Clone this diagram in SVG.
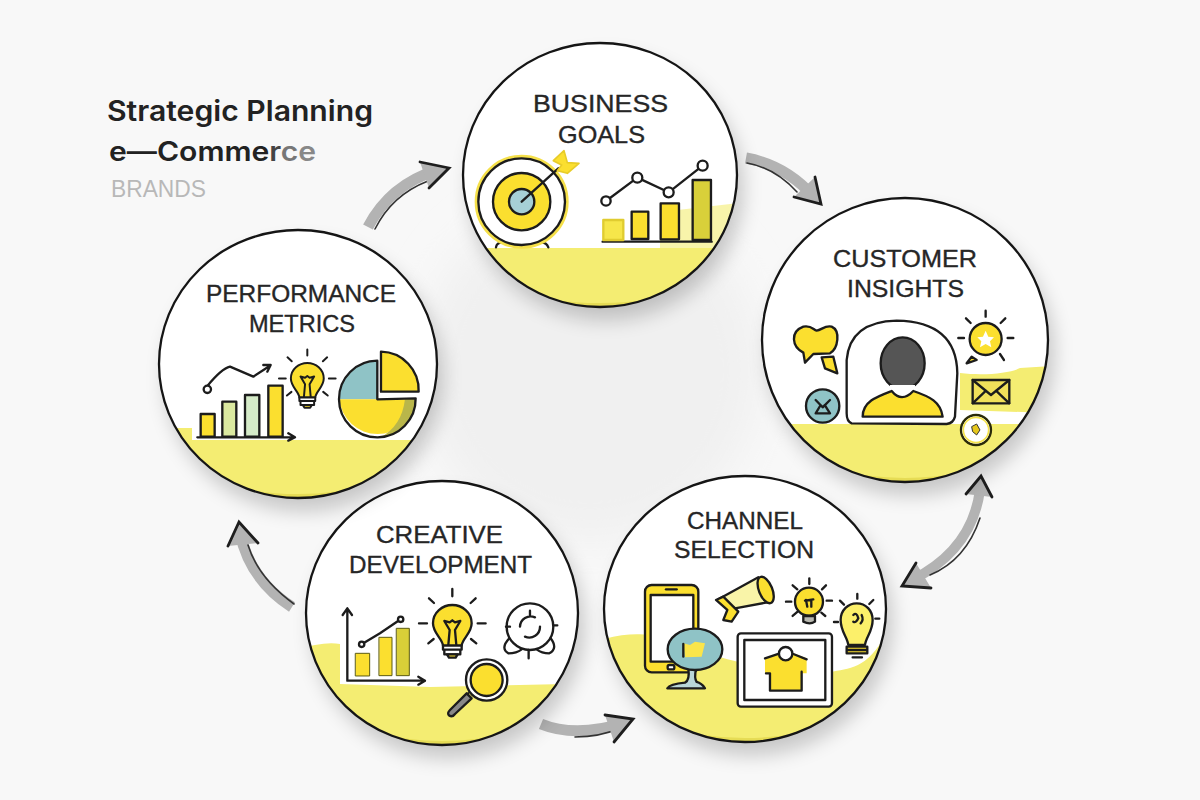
<svg xmlns="http://www.w3.org/2000/svg" width="1200" height="800" viewBox="0 0 1200 800">
<defs>
<style>
.lbl{font-family:"Liberation Sans",Arial,sans-serif;font-size:24.5px;fill:#262626;stroke:#262626;stroke-width:.35}
.ttl{font-family:Inter,"Liberation Sans",Arial,sans-serif;font-weight:600;fill:#222}
.ring{fill:none;stroke:#151515;stroke-width:2.3}
.k{fill:none;stroke:#1c1c1c;stroke-width:7;stroke-linecap:round;stroke-linejoin:round}
.ky{fill:#fbdf2f;stroke:#1c1c1c;stroke-width:7;stroke-linecap:round;stroke-linejoin:round}
.kw{fill:#fff;stroke:#1c1c1c;stroke-width:7;stroke-linecap:round;stroke-linejoin:round}
.kt{fill:#8fc3c6;stroke:#1c1c1c;stroke-width:7;stroke-linecap:round;stroke-linejoin:round}
.gnd{fill:#f4ed72}
.shaft{fill:none;stroke:#b3b3b3;stroke-linecap:butt}
.edge{fill:none;stroke:#333;stroke-width:1.6;stroke-linecap:round}
.head{fill:none;stroke:#1e1e1e;stroke-width:2.8;stroke-linecap:round;stroke-linejoin:miter}
.hf{fill:#b3b3b3}
</style>
<filter id="soft" x="-30%" y="-30%" width="160%" height="160%"><feGaussianBlur stdDeviation="10"/></filter>
<filter id="vsoft" x="-30%" y="-30%" width="160%" height="160%"><feGaussianBlur stdDeviation="22"/></filter>
<clipPath id="c1"><ellipse cx="600" cy="175" rx="137" ry="132"/></clipPath>
<clipPath id="c2"><ellipse cx="905" cy="340" rx="143" ry="142"/></clipPath>
<clipPath id="c3"><ellipse cx="745" cy="609" rx="141" ry="133"/></clipPath>
<clipPath id="c4"><ellipse cx="442" cy="613" rx="136" ry="132"/></clipPath>
<clipPath id="c5"><ellipse cx="298" cy="364" rx="139" ry="134"/></clipPath>
<g id="bulb">
<path class="ky" d="M-28,62 C-30,40 -58,25 -58,-5 C-58,-38 -30,-60 0,-60 C30,-60 58,-38 58,-5 C58,25 30,40 28,62 Z"/>
<path class="k" d="M-12,60 L-8,15 L-24,-12 L-8,-8 L0,-14 L8,-8 L24,-12 L8,15 L12,60"/>
<path class="kw" d="M-28,62 H28 V74 H-28 Z M-24,74 H24 V88 H-24 Z"/>
<path class="ky" d="M-16,88 H16 L10,98 H-10 Z"/>
<path class="k" d="M0,-108 V-86 M-70,-80 L-55,-66 M70,-80 L55,-66 M-100,-5 H-76 M100,-5 H76 M-72,55 L-56,42 M72,55 L56,42"/>
</g>
</defs>
<rect width="1200" height="800" fill="#f8f8f8"/>
<ellipse cx="590" cy="370" rx="170" ry="170" fill="#f0f0f0" filter="url(#vsoft)"/>

<g id="title">
<text class="ttl" x="107" y="121" font-size="28" textLength="266" lengthAdjust="spacingAndGlyphs">Strategic Planning</text>
<text class="ttl" x="109" y="161" font-size="27" textLength="207" lengthAdjust="spacingAndGlyphs">e—Comme<tspan fill="#444">r</tspan><tspan fill="#777">c</tspan><tspan fill="#888">e</tspan></text>
<text x="111" y="197" font-family="'Liberation Sans',Arial,sans-serif" font-size="23" fill="#b8b8b8" textLength="95" lengthAdjust="spacingAndGlyphs">BRANDS</text>
</g>

<g id="connectors">
<g><path class="shaft" stroke-width="11" d="M368,227 Q390,185 437,170"/><path class="edge" d="M375,229 Q392,195 428,181"/><path class="hf" d="M449,168 L420,162 L429,188 Z"/><path class="head" d="M420,162 L449,168 L429,188"/></g>
<g><path class="shaft" stroke-width="11" d="M746,158 Q785,165 813,196"/><path class="edge" d="M747,163 Q775,168 797,192"/><path class="hf" d="M821,204 L815,177 L794,197 Z"/><path class="head" d="M815,177 L821,204 L794,197"/></g>
<g><path class="shaft" stroke-width="10" d="M980,490 Q972,550 912,580"/><path class="edge" d="M980,518 Q966,560 930,575"/><path class="hf" d="M981,476 L966,494 L992,497 Z M902,586 L916,563 L931,588 Z"/><path class="head" d="M966,494 L981,476 L992,497"/><path class="head" d="M916,563 L902,586 L931,588"/></g>
<g><path class="shaft" stroke-width="11" d="M541,724 Q575,738 625,723"/><path class="edge" d="M575,737 Q600,737 620,728"/><path class="hf" d="M633,719 L605,715 L614,742 Z"/><path class="head" d="M605,715 L633,719 L614,742"/></g>
<g><path class="shaft" stroke-width="11" d="M292,607 Q250,580 240,533"/><path class="edge" d="M294,604 Q258,578 248,545"/><path class="hf" d="M239,522 L228,546 L258,543 Z"/><path class="head" d="M228,546 L239,522 L258,543"/></g>
</g>

<g id="node-business">
<ellipse cx="606" cy="188" rx="137" ry="132" fill="#000" opacity=".2" filter="url(#soft)"/>
<ellipse cx="600" cy="175" rx="137" ry="132" fill="#fff"/>
<g clip-path="url(#c1)">
<rect x="460" y="248" width="280" height="60" fill="#e6dc55"/>
<path class="gnd" d="M460,248 H740 V270 Q680,303 600,303 Q520,303 460,270 Z"/>
<path d="M660,212 L740,203 V248 H660 Z" fill="#f4ed72" opacity=".6"/>
</g>
<ellipse class="ring" cx="600" cy="175" rx="137" ry="132"/>
<text class="lbl" x="533" y="112" textLength="135" lengthAdjust="spacingAndGlyphs">BUSINESS</text>
<text class="lbl" x="558" y="143" textLength="87" lengthAdjust="spacingAndGlyphs">GOALS</text>
<g transform="translate(450,0) scale(.3333)">
<path class="k" d="M138,742 Q140,728 155,728 M295,742 Q290,728 275,728"/>
<circle cx="215" cy="605" r="135" fill="#fff" stroke="#f5e04a" stroke-width="12"/>
<circle class="k" cx="215" cy="605" r="130"/>
<circle class="ky" cx="215" cy="605" r="86"/>
<circle class="kt" cx="215" cy="605" r="38" style="fill:#a6d0d6"/>
<path class="k" d="M215,605 L325,505"/>
<path d="M310,482 L342,452 L352,488 L387,490 L352,520 L322,512 L335,495 Z" fill="#fbdf2f" stroke="#e8cc28" stroke-width="5" stroke-linejoin="round"/>
<path class="k" d="M458,725 H785"/>
<rect class="ky" style="fill:#f6e64a;stroke:#e0cc30" x="460" y="660" width="60" height="60"/>
<rect class="ky" x="545" y="635" width="50" height="82"/>
<rect class="ky" x="632" y="610" width="55" height="108"/>
<rect class="ky" style="fill:#d9d03a" x="728" y="540" width="55" height="180"/>
<path class="k" d="M468,603 L562,533 L656,577 L758,497"/>
<circle class="kw" cx="468" cy="603" r="14"/><circle class="kw" cx="562" cy="533" r="15"/><circle class="kw" cx="656" cy="577" r="15"/><circle class="kw" cx="758" cy="497" r="15"/>
</g>
</g>

<g id="node-customer">
<ellipse cx="911" cy="353" rx="143" ry="142" fill="#000" opacity=".2" filter="url(#soft)"/>
<ellipse cx="905" cy="340" rx="143" ry="142" fill="#fff"/>
<g clip-path="url(#c2)">
<rect x="760" y="424" width="290" height="60" fill="#e6dc55"/>
<path class="gnd" d="M760,424 H1050 V440 Q980,478 905,478 Q830,478 760,440 Z"/>
<path class="gnd" d="M960,373 C985,376 1010,373 1020,368 L1050,366 V413 L960,410 Z"/>
</g>
<ellipse class="ring" cx="905" cy="340" rx="143" ry="142"/>
<text class="lbl" x="833" y="267" textLength="144" lengthAdjust="spacingAndGlyphs">CUSTOMER</text>
<text class="lbl" x="847" y="297" textLength="117" lengthAdjust="spacingAndGlyphs">INSIGHTS</text>
<g transform="translate(750,200) scale(.3333)">
<path class="ky" d="M160,380 C185,375 190,390 200,392 C215,390 225,375 245,380 C272,392 265,445 240,460 L190,462 L165,488 L160,458 C125,440 120,395 160,380 Z"/>
<path class="ky" d="M215,472 L250,470 L262,520 L225,505 Z"/>
<path class="kw" d="M305,670 Q290,665 290,640 L290,480 Q300,365 440,362 Q620,365 622,520 L615,650 Q610,670 590,672 Z"/>
<ellipse class="k" style="fill:#555" cx="458" cy="490" rx="66" ry="78"/>
<path class="kw" style="stroke:none" d="M420,555 H495 V590 L455,605 L420,590 Z"/>
<path class="ky" d="M338,650 C338,605 380,590 425,573 Q455,610 490,573 C540,590 572,605 578,650 Z"/>
<circle class="kt" cx="218" cy="618" r="50"/>
<path class="k" d="M197,600 L218,622 L240,600 M197,640 L212,615 M240,640 L224,615 M197,640 H240"/>
<path class="ky" d="M665,470 L650,490 L680,480 Z"/>
<circle class="ky" cx="707" cy="417" r="48"/>
<path d="M707,392 L715,410 L732,412 L720,424 L724,442 L707,432 L690,442 L694,424 L682,412 L699,410 Z" fill="#fff"/>
<path class="k" d="M707,332 V350 M648,355 L662,369 M766,355 L752,369 M625,414 H642 M790,414 H773 M750,462 L762,480"/>
<rect class="k" style="fill:#f1e05a" x="668" y="540" width="110" height="70"/>
<path class="k" d="M668,540 L723,585 L778,540 M668,610 L708,572 M778,610 L738,572"/>
<circle class="kw" cx="678" cy="690" r="45" style="stroke:#2a2a0a"/>
<circle cx="678" cy="690" r="38" fill="none" stroke="#f5e34b" stroke-width="5"/>
<path d="M665,680 L680,672 L690,690 L680,705 L668,695 Z" fill="#e6c71c" stroke="#333" stroke-width="3"/>
</g>
</g>

<g id="node-channel">
<ellipse cx="751" cy="622" rx="141" ry="133" fill="#000" opacity=".2" filter="url(#soft)"/>
<ellipse cx="745" cy="609" rx="141" ry="133" fill="#fff"/>
<g clip-path="url(#c3)">
<path fill="#e6dc55" d="M600,700 H890 V745 H600 Z"/>
<path class="gnd" d="M600,640 C630,632 650,633 660,640 C700,650 780,680 830,672 C850,668 870,670 890,625 V690 Q830,738 745,738 Q660,738 600,690 Z"/>
</g>
<ellipse class="ring" cx="745" cy="609" rx="141" ry="133"/>
<text class="lbl" x="687" y="529" textLength="116" lengthAdjust="spacingAndGlyphs">CHANNEL</text>
<text class="lbl" x="674" y="558" textLength="140" lengthAdjust="spacingAndGlyphs">SELECTION</text>
<g transform="translate(590,480) scale(.3333)">
<rect class="ky" x="165" y="315" width="160" height="262" rx="20"/>
<rect class="kw" x="182" y="345" width="128" height="200"/>
<path class="k" d="M228,328 H260"/>
<rect class="kw" x="233" y="555" width="20" height="13" rx="5"/>
<path class="k" style="fill:#b9d6d8" d="M295,565 Q300,600 285,608 Q240,612 232,625 H345 Q335,610 320,606 Q312,595 318,568 Z"/>
<ellipse class="kt" cx="315" cy="508" rx="82" ry="62"/>
<path d="M280,490 L300,495 L315,485 L345,490 L335,530 L285,532 Z" fill="#fbe54a"/>
<path class="k" d="M280,492 V530"/>
<path class="kw" style="fill:#f9f4a8" d="M385,358 L505,292 L545,365 L435,385 Z"/>
<ellipse class="ky" cx="527" cy="330" rx="20" ry="42" transform="rotate(-22 527 330)"/>
<path class="ky" d="M378,360 L400,350 L430,380 L445,395 L425,425 L400,420 L412,390 Z"/>
<circle class="ky" cx="657" cy="365" r="42"/>
<path class="k" style="fill:#b9b9b0" d="M640,408 H675 V425 Q660,435 640,425 Z"/>
<path class="k" d="M648,360 L652,380 M664,360 L664,380 M645,362 L670,358"/>
<path class="k" d="M658,295 V312 M608,316 L622,328 M708,316 L696,328 M588,365 H604 M726,362 H710 M608,408 L622,396 M706,408 L694,398"/>
<path class="ky" style="fill:#fcf06a" d="M775,495 C772,470 752,455 752,420 C752,390 775,370 800,370 C828,370 848,392 848,420 C848,455 828,470 825,495 Z"/>
<path class="k" d="M790,405 Q800,395 805,415 Q798,430 790,425 M815,405 Q822,420 812,430"/>
<path class="ky" d="M770,500 H832 V520 H770 Z"/>
<path class="k" d="M788,532 H816 M772,510 H830"/>
<path class="k" d="M802,342 V356 M750,362 L762,374 M850,360 L838,372 M732,426 H744 M868,416 H856"/>
<rect class="kw" x="443" y="460" width="283" height="220" rx="10"/>
<rect class="k" x="463" y="480" width="243" height="180"/>
<path class="ky" style="stroke:none" d="M525,535 L565,520 L610,520 L650,535 L650,580 L635,580 V632 H540 V580 H525 Z"/>
<path class="k" d="M525,535 L565,522 M610,522 L650,538 M528,580 H540 V632 H635 V575"/>
<circle class="kw" cx="587" cy="521" r="20"/>
</g>
</g>

<g id="node-creative">
<ellipse cx="448" cy="626" rx="136" ry="132" fill="#000" opacity=".2" filter="url(#soft)"/>
<ellipse cx="442" cy="613" rx="136" ry="132" fill="#fff"/>
<g clip-path="url(#c4)">
<rect x="300" y="700" width="285" height="50" fill="#e6dc55"/>
<path class="gnd" d="M300,648 L315,645 Q330,642 340,644 L340,684 L430,687 L565,684 L580,650 V700 Q520,741 442,741 Q370,741 300,700 Z"/>
</g>
<ellipse class="ring" cx="442" cy="613" rx="136" ry="132"/>
<text class="lbl" x="376" y="543" textLength="127" lengthAdjust="spacingAndGlyphs">CREATIVE</text>
<text class="lbl" x="349" y="573" textLength="183" lengthAdjust="spacingAndGlyphs">DEVELOPMENT</text>
<g transform="translate(290,480) scale(.3333)">
<path class="k" d="M172,385 V602 H405 M158,405 L172,385 L186,405 M385,590 L405,602 L385,614"/>
<rect class="ky" style="stroke-width:3;stroke:#5a5a10" x="197" y="520" width="42" height="68"/>
<rect class="ky" style="stroke-width:3;stroke:#5a5a10" x="268" y="472" width="38" height="115"/>
<rect class="ky" style="stroke-width:3;stroke:#5a5a10;fill:#d9cf38" x="320" y="445" width="38" height="142"/>
<path class="k" d="M215,493 L270,460 L332,418"/>
<circle class="kw" cx="215" cy="493" r="8"/><circle class="kw" cx="332" cy="418" r="8"/>
<use href="#bulb" transform="translate(487,435)"/>
<circle class="k" cx="720" cy="440" r="70"/>
<path class="k" d="M658,475 Q630,505 655,520 Q680,520 695,508 M782,475 Q805,505 778,520 Q755,520 740,508"/>
<path class="k" d="M690,440 A32,32 0 0 1 735,412 M750,440 A32,32 0 0 1 705,470 M720,392 V408 M716,510 V535 M648,440 H660 M790,436 H802"/>
<circle cx="590" cy="600" r="62" fill="#fff" stroke="#1c1c1c" stroke-width="7"/>
<circle class="ky" cx="590" cy="600" r="48"/>
<path class="k" d="M535,640 L520,652"/>
<path d="M530,640 L480,690 Q470,700 478,707 Q488,712 495,702 L545,655 Z" fill="#888" stroke="#1c1c1c" stroke-width="7" stroke-linejoin="round"/>
</g>
</g>

<g id="node-performance">
<ellipse cx="304" cy="377" rx="139" ry="134" fill="#000" opacity=".2" filter="url(#soft)"/>
<ellipse cx="298" cy="364" rx="139" ry="134" fill="#fff"/>
<g clip-path="url(#c5)">
<rect x="155" y="460" width="285" height="40" fill="#e6dc55"/>
<path class="gnd" d="M155,428 H192 V440 H440 V450 Q380,494 298,494 Q215,494 155,450 Z"/>
</g>
<ellipse class="ring" cx="298" cy="364" rx="139" ry="134"/>
<text class="lbl" x="206" y="302" textLength="190" lengthAdjust="spacingAndGlyphs">PERFORMANCE</text>
<text class="lbl" x="249" y="332" textLength="106" lengthAdjust="spacingAndGlyphs">METRICS</text>
<g transform="translate(150,230) scale(.3333)">
<rect class="ky" x="152" y="552" width="42" height="68"/>
<rect class="ky" style="fill:#dbe9a0" x="217" y="515" width="42" height="105"/>
<rect class="ky" style="fill:#d5ebc8" x="285" y="495" width="43" height="125"/>
<rect class="ky" x="355" y="467" width="43" height="153"/>
<path class="k" d="M142,622 H435 M415,610 L435,622 L415,632"/>
<path class="k" d="M172,468 C195,440 220,415 240,410 L310,440 L360,407 M340,405 L362,405 L352,425"/>
<circle class="kw" cx="172" cy="478" r="11"/>
<use href="#bulb" transform="translate(472,450) scale(.85)"/>
<path d="M682,508 V392 A115,115 0 0 0 568,508 Z" fill="#8fc3c6"/>
<path d="M568,508 A115,115 0 0 0 797,508 Z" fill="#fbdf2f"/>
<path d="M797,508 A115,115 0 0 1 690,623 Q755,590 765,508 Z" fill="#b9b64a"/>
<path class="k" d="M682,392 A115,115 0 1 0 797,505 L682,508 Z"/>
<path class="ky" d="M693,365 A115,115 0 0 1 806,485 L693,485 Z"/>
</g>
</g>
</svg>
